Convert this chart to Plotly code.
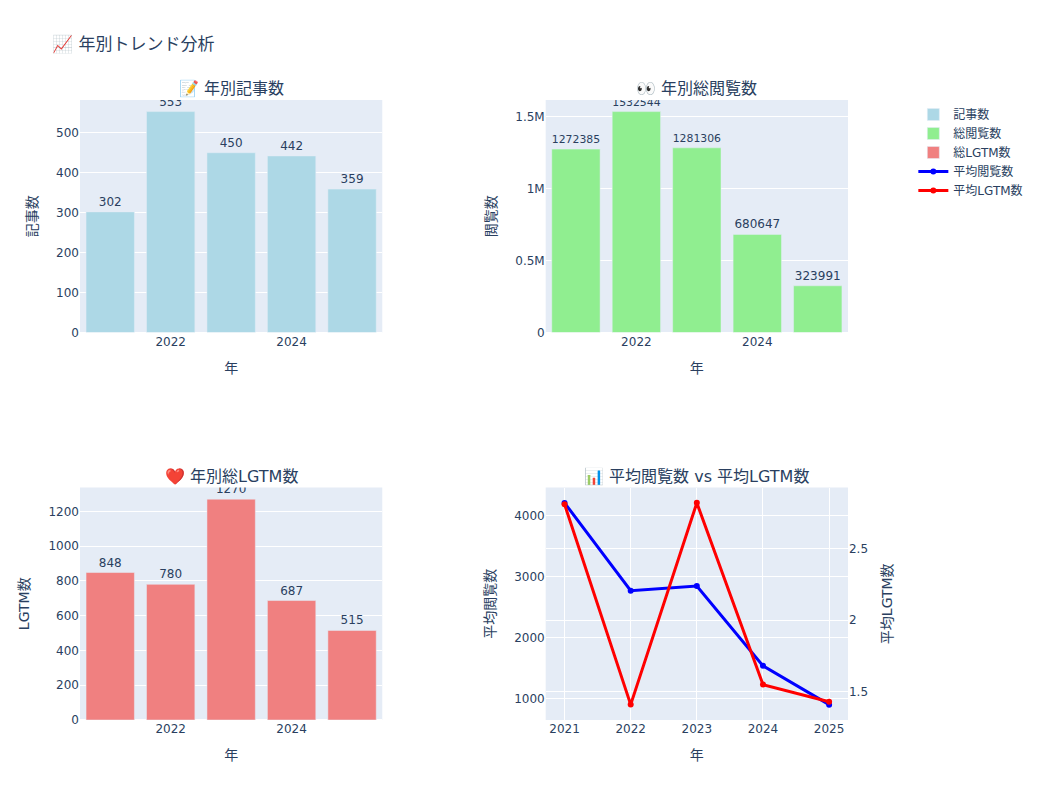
import plotly.graph_objects as go
from plotly.subplots import make_subplots

years = [2021, 2022, 2023, 2024, 2025]
article_counts = [302, 553, 450, 442, 359]
total_views = [1272385, 1532544, 1281306, 680647, 323991]
total_lgtm = [848, 780, 1270, 687, 515]
avg_views = [4213, 2771, 2847, 1540, 902]
avg_lgtm = [2.81, 1.41, 2.82, 1.55, 1.43]

fig = make_subplots(
    rows=2,
    cols=2,
    subplot_titles=("📝 年別記事数", "👀 年別総閲覧数", "❤️ 年別総LGTM数", "📊 平均閲覧数 vs 平均LGTM数"),
    specs=[[{}, {}], [{}, {"secondary_y": True}]],
    horizontal_spacing=0.2,
    vertical_spacing=0.25,
)

fig.add_trace(go.Bar(x=years, y=article_counts, name="記事数", marker_color="lightblue",
                     text=article_counts, textposition="outside"), row=1, col=1)
fig.add_trace(go.Bar(x=years, y=total_views, name="総閲覧数", marker_color="lightgreen",
                     text=total_views, textposition="outside"), row=1, col=2)
fig.add_trace(go.Bar(x=years, y=total_lgtm, name="総LGTM数", marker_color="lightcoral",
                     text=total_lgtm, textposition="outside"), row=2, col=1)
fig.add_trace(go.Scatter(x=years, y=avg_views, name="平均閲覧数", mode="lines+markers",
                         line=dict(color="blue", width=3)), row=2, col=2, secondary_y=False)
fig.add_trace(go.Scatter(x=years, y=avg_lgtm, name="平均LGTM数", mode="lines+markers",
                         line=dict(color="red", width=3)), row=2, col=2, secondary_y=True)

for r, c in [(1, 1), (1, 2), (2, 1), (2, 2)]:
    fig.update_xaxes(title_text="年", row=r, col=c)
fig.update_yaxes(title_text="記事数", row=1, col=1)
fig.update_yaxes(title_text="閲覧数", row=1, col=2)
fig.update_yaxes(title_text="LGTM数", row=2, col=1)
fig.update_yaxes(title_text="平均閲覧数", row=2, col=2, secondary_y=False)
fig.update_yaxes(title_text="平均LGTM数", row=2, col=2, secondary_y=True)

fig.update_layout(
    title_text="📈 年別トレンド分析",
    width=1040,
    height=800,
    font_family="DejaVu Sans, Noto Sans CJK JP, sans-serif",
    margin=dict(l=80, r=143, t=100, b=80, autoexpand=False),
)

fig.write_html("out.html")
